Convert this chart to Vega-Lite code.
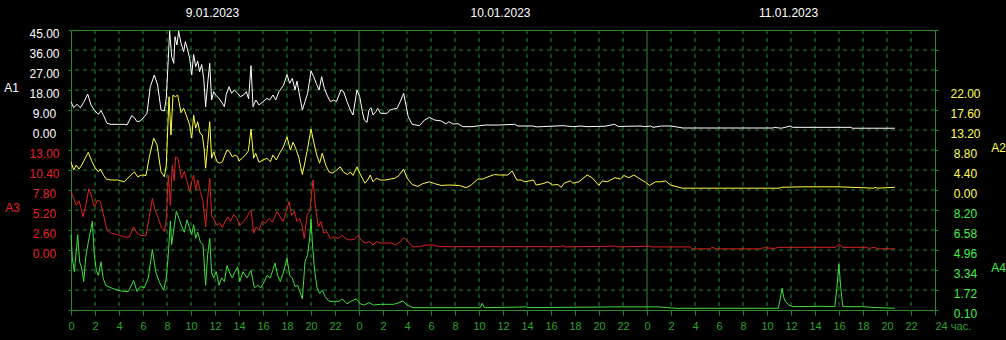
{
"$schema": "https://vega.github.io/schema/vega-lite/v6.json",
"width": 864, "height": 280,
"autosize": {"type": "none"},
"padding": {"left": 71, "top": 30, "right": 71, "bottom": 30},
"background": "#000000",
"config": {
  "view": {"stroke": "#2e8b2e", "strokeWidth": 1},
  "axis": {"labelFont": "Liberation Sans Narrow, Liberation Sans", "titleFont": "Liberation Sans Narrow, Liberation Sans", "labelFontSize": 12, "titleFontSize": 12, "titleFontWeight": "normal", "domain": false, "ticks": false, "grid": false, "labelFlush": false, "labelOverlap": false}
},
"datasets": {
"a1": [{"h":0,"v":12.75},{"h":0.22,"v":10.05},{"h":0.5,"v":11.55},{"h":0.78,"v":10.05},{"h":1.06,"v":12.45},{"h":1.39,"v":16.2},{"h":1.67,"v":11.25},{"h":2.0,"v":8.55},{"h":2.28,"v":7.05},{"h":2.5,"v":8.7},{"h":2.72,"v":6.45},{"h":3.0,"v":3.0},{"h":3.33,"v":2.55},{"h":3.89,"v":2.55},{"h":4.44,"v":2.55},{"h":4.67,"v":2.25},{"h":5.06,"v":6.45},{"h":5.28,"v":5.55},{"h":5.5,"v":3.75},{"h":5.78,"v":4.05},{"h":6.11,"v":6.0},{"h":6.33,"v":7.5},{"h":6.61,"v":19.5},{"h":6.94,"v":24.75},{"h":7.22,"v":20.25},{"h":7.5,"v":9.0},{"h":7.78,"v":8.55},{"h":7.94,"v":14.25},{"h":8.11,"v":32.25},{"h":8.22,"v":44.55},{"h":8.39,"v":33},{"h":8.56,"v":30},{"h":8.67,"v":42},{"h":8.83,"v":38.25},{"h":8.97,"v":44.55},{"h":9.17,"v":39},{"h":9.39,"v":35.25},{"h":9.53,"v":39.75},{"h":9.72,"v":36},{"h":9.89,"v":32.25},{"h":10.06,"v":24.75},{"h":10.22,"v":34},{"h":10.39,"v":28.5},{"h":10.56,"v":31},{"h":10.72,"v":26.25},{"h":10.89,"v":29.5},{"h":11.06,"v":23.25},{"h":11.22,"v":10.5},{"h":11.39,"v":21},{"h":11.56,"v":30},{"h":11.72,"v":13.5},{"h":11.89,"v":17.25},{"h":12.11,"v":15.45},{"h":12.33,"v":14.25},{"h":12.56,"v":12.45},{"h":12.78,"v":10.5},{"h":12.94,"v":16},{"h":13.17,"v":19.5},{"h":13.39,"v":16.5},{"h":13.61,"v":18},{"h":13.89,"v":16.5},{"h":14.11,"v":15},{"h":14.39,"v":15.75},{"h":14.61,"v":17.25},{"h":14.8,"v":14},{"h":15.0,"v":28.95},{"h":15.17,"v":10.5},{"h":15.4,"v":13.5},{"h":15.67,"v":11.25},{"h":16,"v":12.75},{"h":16.33,"v":14.25},{"h":16.56,"v":13.5},{"h":16.83,"v":15.75},{"h":17.06,"v":13.5},{"h":17.33,"v":17.25},{"h":17.7,"v":20},{"h":18,"v":25},{"h":18.22,"v":21},{"h":18.44,"v":23.25},{"h":18.67,"v":18},{"h":18.83,"v":22},{"h":19.0,"v":17},{"h":19.28,"v":9},{"h":19.5,"v":12.75},{"h":19.72,"v":16.5},{"h":20,"v":26.55},{"h":20.22,"v":24},{"h":20.44,"v":21},{"h":20.67,"v":18},{"h":20.89,"v":24},{"h":21.11,"v":18.75},{"h":21.33,"v":15.75},{"h":21.61,"v":12.75},{"h":21.89,"v":13.5},{"h":22.11,"v":12.75},{"h":22.5,"v":18},{"h":22.72,"v":17.25},{"h":23,"v":12.75},{"h":23.28,"v":9},{"h":23.5,"v":6.75},{"h":23.83,"v":18},{"h":24.06,"v":15},{"h":24.28,"v":8.25},{"h":24.44,"v":4.5},{"h":24.67,"v":3.45},{"h":24.83,"v":9},{"h":25.0,"v":10},{"h":25.17,"v":6.75},{"h":25.4,"v":8.25},{"h":25.56,"v":9.75},{"h":25.8,"v":7.5},{"h":26.33,"v":7.5},{"h":26.61,"v":9},{"h":26.89,"v":9.45},{"h":27.17,"v":9.75},{"h":27.44,"v":12.75},{"h":27.72,"v":16.5},{"h":27.85,"v":13},{"h":28.1,"v":6},{"h":28.43,"v":2.55},{"h":29.04,"v":1.95},{"h":29.46,"v":4.5},{"h":29.88,"v":5.7},{"h":30.3,"v":4.5},{"h":30.85,"v":4.05},{"h":31.26,"v":2.7},{"h":31.49,"v":3.75},{"h":31.82,"v":2.7},{"h":32.24,"v":2.85},{"h":32.65,"v":1.5},{"h":33.5,"v":1.5},{"h":34.04,"v":1.95},{"h":34.6,"v":2.25},{"h":35.7,"v":2.25},{"h":36.96,"v":2.55},{"h":37.24,"v":1.8},{"h":38.49,"v":1.8},{"h":38.8,"v":1.4},{"h":41.0,"v":1.95},{"h":41.3,"v":1.8},{"h":41.8,"v":1.5},{"h":42.5,"v":1.8},{"h":43.0,"v":1.5},{"h":44.5,"v":1.7},{"h":45.3,"v":2.55},{"h":45.6,"v":1.6},{"h":47.5,"v":1.8},{"h":47.8,"v":1.5},{"h":48.3,"v":1.8},{"h":48.5,"v":1.2},{"h":49.2,"v":1.8},{"h":50.0,"v":1.8},{"h":51.0,"v":0.9},{"h":58.5,"v":0.9},{"h":58.6,"v":1.2},{"h":59.2,"v":0.8},{"h":59.95,"v":1.8},{"h":60.15,"v":1.2},{"h":65.0,"v":1.2},{"h":65.1,"v":0.8},{"h":68.65,"v":0.8}],
"a2": [{"h":0,"v":6.2},{"h":0.22,"v":4.4},{"h":0.44,"v":5.5},{"h":0.67,"v":4.6},{"h":0.9,"v":5.5},{"h":1.11,"v":6.6},{"h":1.44,"v":8.3},{"h":1.72,"v":6.4},{"h":2.0,"v":4.9},{"h":2.28,"v":4.0},{"h":2.44,"v":4.6},{"h":2.7,"v":3.3},{"h":2.94,"v":2.4},{"h":3.33,"v":2.2},{"h":3.89,"v":2.2},{"h":4.44,"v":1.8},{"h":4.72,"v":2.6},{"h":5.28,"v":4.0},{"h":5.56,"v":2.9},{"h":5.89,"v":3.3},{"h":6.25,"v":3.2},{"h":6.53,"v":7.3},{"h":6.89,"v":11.4},{"h":7.17,"v":9.9},{"h":7.5,"v":4.0},{"h":7.78,"v":2.9},{"h":7.94,"v":5.5},{"h":8.17,"v":20.5},{"h":8.33,"v":12.1},{"h":8.5,"v":20.9},{"h":8.7,"v":20.5},{"h":8.89,"v":20.9},{"h":9.17,"v":17},{"h":9.39,"v":18},{"h":9.6,"v":16.5},{"h":9.89,"v":14.3},{"h":10.06,"v":11.4},{"h":10.22,"v":16.5},{"h":10.39,"v":13.6},{"h":10.56,"v":15},{"h":10.75,"v":12.5},{"h":10.94,"v":12.1},{"h":11.1,"v":9},{"h":11.22,"v":4.8},{"h":11.39,"v":10},{"h":11.56,"v":15},{"h":11.72,"v":7},{"h":11.89,"v":8.4},{"h":12.17,"v":6.2},{"h":12.39,"v":5.9},{"h":12.61,"v":6.2},{"h":12.8,"v":7.5},{"h":13.0,"v":8.8},{"h":13.22,"v":8.4},{"h":13.44,"v":7.3},{"h":13.67,"v":7.7},{"h":13.89,"v":7.3},{"h":14.0,"v":6.4},{"h":14.28,"v":7},{"h":14.56,"v":7.8},{"h":14.78,"v":8.6},{"h":15.0,"v":13.4},{"h":15.22,"v":7},{"h":15.39,"v":8.1},{"h":15.67,"v":6.1},{"h":16,"v":6.6},{"h":16.33,"v":7},{"h":16.61,"v":6.2},{"h":16.83,"v":7.7},{"h":17.11,"v":6.6},{"h":17.39,"v":8.1},{"h":17.7,"v":9.5},{"h":18,"v":11.7},{"h":18.28,"v":8.8},{"h":18.5,"v":10.5},{"h":18.72,"v":9.2},{"h":19,"v":7},{"h":19.28,"v":3.4},{"h":19.5,"v":6.2},{"h":19.72,"v":9.2},{"h":20,"v":13.4},{"h":20.28,"v":9.9},{"h":20.5,"v":7.5},{"h":20.72,"v":5.9},{"h":20.94,"v":8.1},{"h":21.22,"v":5.5},{"h":21.5,"v":4},{"h":21.78,"v":3.7},{"h":22.06,"v":4.2},{"h":22.44,"v":5.1},{"h":22.72,"v":3.9},{"h":23.06,"v":3.4},{"h":23.28,"v":4.0},{"h":23.5,"v":3.2},{"h":23.83,"v":5.1},{"h":24.06,"v":3.7},{"h":24.28,"v":2.6},{"h":24.5,"v":1.5},{"h":24.72,"v":2.2},{"h":24.94,"v":3.3},{"h":25.17,"v":1.8},{"h":25.44,"v":2.6},{"h":25.78,"v":2.2},{"h":26.22,"v":2.2},{"h":26.61,"v":2.4},{"h":27,"v":2.6},{"h":27.33,"v":3.2},{"h":27.71,"v":4.6},{"h":27.99,"v":2.7},{"h":28.43,"v":1.2},{"h":28.9,"v":0.8},{"h":29.32,"v":1.4},{"h":29.88,"v":1.8},{"h":30.3,"v":1.4},{"h":30.85,"v":1.0},{"h":31.54,"v":1.1},{"h":32.37,"v":1.0},{"h":32.93,"v":0.5},{"h":33.35,"v":1.1},{"h":33.9,"v":2.4},{"h":34.32,"v":2.4},{"h":34.74,"v":2.9},{"h":35.29,"v":3.4},{"h":35.71,"v":3.3},{"h":36.4,"v":3.3},{"h":36.76,"v":4.2},{"h":37.15,"v":2.2},{"h":37.51,"v":2.2},{"h":37.79,"v":1.8},{"h":38.2,"v":2.0},{"h":38.54,"v":2.2},{"h":38.76,"v":1.1},{"h":39.32,"v":1.4},{"h":39.74,"v":1.8},{"h":40.15,"v":1.1},{"h":40.57,"v":1.2},{"h":40.85,"v":0.6},{"h":41.1,"v":1.5},{"h":41.62,"v":2.0},{"h":41.82,"v":1.5},{"h":42.32,"v":1.8},{"h":43.01,"v":3.3},{"h":43.43,"v":2.7},{"h":43.99,"v":1.0},{"h":44.26,"v":2.0},{"h":44.68,"v":1.8},{"h":44.96,"v":2.2},{"h":45.32,"v":2.7},{"h":45.79,"v":2.4},{"h":46.07,"v":3.2},{"h":46.49,"v":2.7},{"h":46.9,"v":3.3},{"h":47.32,"v":2.6},{"h":47.88,"v":1.7},{"h":48.21,"v":1.0},{"h":48.71,"v":1.8},{"h":49.13,"v":1.8},{"h":49.54,"v":2.0},{"h":49.96,"v":1.1},{"h":50.51,"v":0.7},{"h":50.93,"v":0.4},{"h":59.0,"v":0.4},{"h":59.2,"v":0.6},{"h":61.0,"v":0.7},{"h":62,"v":0.7},{"h":64,"v":0.7},{"h":66.9,"v":0.4},{"h":67.0,"v":0.6},{"h":67.2,"v":0.4},{"h":68.65,"v":0.6}],
"a3": [{"h":0,"v":7.6},{"h":0.22,"v":6.7},{"h":0.44,"v":5.8},{"h":0.67,"v":6.4},{"h":0.83,"v":5.5},{"h":1.0,"v":4.3},{"h":1.22,"v":5.8},{"h":1.5,"v":8.0},{"h":1.72,"v":6.9},{"h":1.94,"v":5.6},{"h":2.22,"v":6.5},{"h":2.44,"v":6.3},{"h":2.67,"v":4.8},{"h":3.0,"v":2.6},{"h":3.33,"v":2.2},{"h":3.89,"v":2.0},{"h":4.44,"v":1.7},{"h":4.86,"v":1.7},{"h":5.22,"v":3.0},{"h":5.5,"v":2.2},{"h":5.83,"v":1.9},{"h":6.25,"v":1.9},{"h":6.5,"v":4.1},{"h":6.78,"v":6.7},{"h":7.0,"v":5.2},{"h":7.28,"v":4.1},{"h":7.56,"v":2.8},{"h":7.78,"v":2.4},{"h":7.94,"v":4.1},{"h":8.11,"v":9.7},{"h":8.28,"v":5.8},{"h":8.44,"v":11},{"h":8.6,"v":9},{"h":8.72,"v":12.1},{"h":8.89,"v":12.0},{"h":9.06,"v":10.6},{"h":9.22,"v":9.3},{"h":9.44,"v":10.2},{"h":9.67,"v":8.9},{"h":9.89,"v":7.6},{"h":10.06,"v":8.9},{"h":10.22,"v":9.7},{"h":10.39,"v":7.8},{"h":10.56,"v":9.1},{"h":10.78,"v":7.6},{"h":11.0,"v":6.3},{"h":11.22,"v":3.0},{"h":11.39,"v":6.7},{"h":11.56,"v":9.3},{"h":11.72,"v":4.5},{"h":11.94,"v":3.9},{"h":12.17,"v":3.2},{"h":12.39,"v":3.5},{"h":12.61,"v":2.9},{"h":12.83,"v":3.7},{"h":13.06,"v":4.3},{"h":13.28,"v":3.7},{"h":13.56,"v":4.6},{"h":13.83,"v":4.1},{"h":14.06,"v":3.2},{"h":14.33,"v":3.7},{"h":14.61,"v":4.1},{"h":14.83,"v":4.8},{"h":15.0,"v":5.2},{"h":15.22,"v":2.2},{"h":15.44,"v":3.0},{"h":15.67,"v":2.6},{"h":15.94,"v":3.7},{"h":16.22,"v":3.5},{"h":16.5,"v":4.1},{"h":16.8,"v":3.6},{"h":17.17,"v":5.0},{"h":17.44,"v":4.3},{"h":17.67,"v":3.7},{"h":17.94,"v":5.0},{"h":18.17,"v":6.3},{"h":18.39,"v":4.5},{"h":18.61,"v":5.0},{"h":18.83,"v":3.7},{"h":19.06,"v":4.1},{"h":19.28,"v":3.0},{"h":19.44,"v":1.5},{"h":19.67,"v":4.5},{"h":19.89,"v":5.0},{"h":20.17,"v":9.1},{"h":20.39,"v":5.4},{"h":20.61,"v":3.0},{"h":20.83,"v":3.7},{"h":21.06,"v":2.2},{"h":21.33,"v":2.4},{"h":21.61,"v":1.5},{"h":21.94,"v":1.7},{"h":22.28,"v":1.5},{"h":22.61,"v":1.9},{"h":22.89,"v":1.5},{"h":23.22,"v":1.3},{"h":23.61,"v":1.4},{"h":23.94,"v":1.9},{"h":24.22,"v":1.2},{"h":24.56,"v":0.9},{"h":24.89,"v":1.1},{"h":25.17,"v":0.65},{"h":25.44,"v":1.1},{"h":25.78,"v":0.9},{"h":26.72,"v":0.9},{"h":27.06,"v":0.65},{"h":27.39,"v":1.0},{"h":27.75,"v":1.6},{"h":28.21,"v":0.9},{"h":28.49,"v":0.43},{"h":29.04,"v":0.43},{"h":29.6,"v":0.65},{"h":30.15,"v":0.65},{"h":30.71,"v":0.43},{"h":40.8,"v":0.43},{"h":41.0,"v":0.56},{"h":41.2,"v":0.4},{"h":45.4,"v":0.5},{"h":45.6,"v":0.4},{"h":48.2,"v":0.5},{"h":48.4,"v":0.4},{"h":51.6,"v":0.4},{"h":51.76,"v":0.15},{"h":53.3,"v":0.15},{"h":53.4,"v":0.35},{"h":53.8,"v":0.15},{"h":57.5,"v":0.15},{"h":57.7,"v":0.3},{"h":58.65,"v":0.2},{"h":58.9,"v":0.35},{"h":63.7,"v":0.35},{"h":63.99,"v":0.74},{"h":64.3,"v":0.35},{"h":66.3,"v":0.35},{"h":66.5,"v":0.2},{"h":66.9,"v":0.35},{"h":67.3,"v":0.15},{"h":68.65,"v":0.15}],
"a4": [{"h":0,"v":6.2},{"h":0.11,"v":4.3},{"h":0.28,"v":3.2},{"h":0.56,"v":6.2},{"h":0.72,"v":4.0},{"h":0.89,"v":3.5},{"h":1.06,"v":2.4},{"h":1.22,"v":4.3},{"h":1.44,"v":5.6},{"h":1.67,"v":6.7},{"h":1.78,"v":7.3},{"h":1.94,"v":4.6},{"h":2.11,"v":3.3},{"h":2.28,"v":2.9},{"h":2.5,"v":4.0},{"h":2.67,"v":2.7},{"h":2.89,"v":2.1},{"h":3.33,"v":1.9},{"h":3.89,"v":1.7},{"h":4.44,"v":1.6},{"h":4.78,"v":1.6},{"h":5.22,"v":2.5},{"h":5.5,"v":1.6},{"h":5.78,"v":2.0},{"h":6.11,"v":1.9},{"h":6.44,"v":2.7},{"h":6.78,"v":5.0},{"h":7.06,"v":3.2},{"h":7.39,"v":2.3},{"h":7.72,"v":1.7},{"h":7.94,"v":2.7},{"h":8.11,"v":4.6},{"h":8.28,"v":7.3},{"h":8.39,"v":5.4},{"h":8.56,"v":6.6},{"h":8.78,"v":8.1},{"h":9.0,"v":7.5},{"h":9.22,"v":6.9},{"h":9.44,"v":6.4},{"h":9.67,"v":7.4},{"h":9.89,"v":6.7},{"h":10.06,"v":6.2},{"h":10.22,"v":7.0},{"h":10.39,"v":5.9},{"h":10.56,"v":6.4},{"h":10.78,"v":5.6},{"h":11.0,"v":5.4},{"h":11.22,"v":2.1},{"h":11.39,"v":4.6},{"h":11.56,"v":5.9},{"h":11.72,"v":3.1},{"h":11.89,"v":2.7},{"h":12.11,"v":3.2},{"h":12.33,"v":2.1},{"h":12.56,"v":2.7},{"h":12.78,"v":2.4},{"h":13.0,"v":3.7},{"h":13.22,"v":3.1},{"h":13.44,"v":2.7},{"h":13.67,"v":3.2},{"h":13.89,"v":3.6},{"h":14.06,"v":2.4},{"h":14.33,"v":3.2},{"h":14.67,"v":2.7},{"h":15.0,"v":3.3},{"h":15.28,"v":1.9},{"h":15.56,"v":2.1},{"h":15.83,"v":1.9},{"h":16.11,"v":2.4},{"h":16.33,"v":2.9},{"h":16.61,"v":2.7},{"h":17.0,"v":3.9},{"h":17.22,"v":2.9},{"h":17.44,"v":2.4},{"h":17.72,"v":3.2},{"h":18.0,"v":4.3},{"h":18.22,"v":2.9},{"h":18.44,"v":2.7},{"h":18.67,"v":2.0},{"h":18.89,"v":2.1},{"h":19.06,"v":1.6},{"h":19.28,"v":1.0},{"h":19.5,"v":4.0},{"h":19.72,"v":4.6},{"h":19.89,"v":5.9},{"h":20.0,"v":7.5},{"h":20.11,"v":5.6},{"h":20.28,"v":3.5},{"h":20.5,"v":1.9},{"h":20.72,"v":1.45},{"h":20.94,"v":1.7},{"h":21.17,"v":1.2},{"h":21.5,"v":0.8},{"h":21.89,"v":0.8},{"h":22.33,"v":0.8},{"h":22.61,"v":1.0},{"h":23.0,"v":0.6},{"h":23.33,"v":0.8},{"h":23.78,"v":1.0},{"h":24.11,"v":0.6},{"h":24.44,"v":0.5},{"h":24.83,"v":0.7},{"h":25.22,"v":0.5},{"h":25.78,"v":0.56},{"h":26.89,"v":0.56},{"h":27.33,"v":0.7},{"h":27.67,"v":0.83},{"h":27.99,"v":0.5},{"h":28.49,"v":0.29},{"h":34.1,"v":0.29},{"h":34.26,"v":0.64},{"h":34.45,"v":0.29},{"h":37.9,"v":0.35},{"h":38.2,"v":0.29},{"h":45.4,"v":0.35},{"h":49.0,"v":0.35},{"h":50.4,"v":0.24},{"h":58.95,"v":0.24},{"h":59.1,"v":1.0},{"h":59.26,"v":1.86},{"h":59.4,"v":1.1},{"h":59.54,"v":0.78},{"h":59.82,"v":0.5},{"h":60.18,"v":0.37},{"h":62.5,"v":0.4},{"h":63.65,"v":0.37},{"h":63.82,"v":1.86},{"h":63.99,"v":3.8},{"h":64.15,"v":1.86},{"h":64.32,"v":0.37},{"h":65.9,"v":0.37},{"h":67.0,"v":0.3},{"h":68.65,"v":0.24}],
"hg": [{"g":1},{"g":2},{"g":3},{"g":4},{"g":5},{"g":6},{"g":7},{"g":8},{"g":9},{"g":10},{"g":11},{"g":12},{"g":13}]
},
"resolve": {"scale": {"y": "independent"}, "axis": {"y": "independent", "x": "independent"}},
"layer": [
  {
    "data": {"name": "hg"},
    "mark": {"type": "rule", "color": "#24862a", "strokeDash": [4, 4], "strokeWidth": 1},
    "encoding": {
      "y": {"field": "g", "type": "quantitative", "scale": {"domain": [0, 14], "nice": false, "zero": false},
        "axis": {"orient": "right", "values": [0,1,2,3,4,5,6,7,8,9,10,11,12,13,14], "labels": false, "ticks": true, "tickSize": 6, "tickColor": "#24862a", "tickDash": [3, 3], "title": null}}
    }
  },
  {
    "data": {"name": "hg"},
    "mark": {"type": "rule", "color": "#24862a", "strokeOpacity": 0},
    "encoding": {
      "y": {"field": "g", "type": "quantitative", "scale": {"domain": [0, 14], "nice": false, "zero": false},
        "axis": {"orient": "left", "values": [0,1,2,3,4,5,6,7,8,9,10,11,12,13,14], "labels": false, "ticks": true, "tickSize": 3, "tickColor": "#24862a", "title": null}}
    }
  },
  {
    "data": {"values": [{"h":2},{"h":4},{"h":6},{"h":8},{"h":10},{"h":12},{"h":14},{"h":16},{"h":18},{"h":20},{"h":22},{"h":26},{"h":28},{"h":30},{"h":32},{"h":34},{"h":36},{"h":38},{"h":40},{"h":42},{"h":44},{"h":46},{"h":50},{"h":52},{"h":54},{"h":56},{"h":58},{"h":60},{"h":62},{"h":64},{"h":66},{"h":68},{"h":70}]},
    "mark": {"type": "rule", "color": "#24862a", "strokeDash": [4, 4], "strokeWidth": 1},
    "encoding": {
      "x": {"field": "h", "type": "quantitative", "scale": {"domain": [0, 72], "nice": false, "zero": false},
        "axis": {"orient": "bottom", "values": [0,2,4,6,8,10,12,14,16,18,20,22,24,26,28,30,32,34,36,38,40,42,44,46,48,50,52,54,56,58,60,62,64,66,68,70,72],
          "labelExpr": "datum.value == 72 ? '24 час.' : '' + (datum.value % 24)",
          "labelAlign": {"condition": {"test": "datum.value == 72", "value": "left"}, "value": "center"},
          "labelFontSize": 11, "labelColor": "#2ea02e", "labelBaseline": "top", "labelPadding": 5, "ticks": true, "tickSize": 5, "tickColor": "#24862a", "title": null}}
    }
  },
  {
    "data": {"values": [{"h":24},{"h":48}]},
    "mark": {"type": "rule", "color": "#2e8b2e", "strokeWidth": 1},
    "encoding": {
      "x": {"field": "h", "type": "quantitative", "scale": {"domain": [0, 72], "nice": false, "zero": false},
        "axis": {"orient": "top", "values": [12, 36, 60],
          "labelExpr": "datum.value == 12 ? '9.01.2023' : (datum.value == 36 ? '10.01.2023' : '11.01.2023')",
          "labelColor": "#ffffff", "labelBaseline": "alphabetic", "labelPadding": 14, "labelOffset": -3, "title": null}}
    }
  },
  {
    "data": {"name": "a1"},
    "mark": {"type": "line", "color": "#ffffff", "strokeWidth": 1},
    "encoding": {
      "x": {"field": "h", "type": "quantitative", "scale": {"domain": [0, 72], "nice": false, "zero": false}, "axis": null},
      "y": {"field": "v", "type": "quantitative", "scale": {"domain": [0, 45], "range": [100, 0], "nice": false, "zero": false},
        "axis": {"orient": "left", "values": [0, 9, 18, 27, 36, 45], "format": ".2f", "labelColor": "#ffffff", "labelAlign": "center", "labelBaseline": "alphabetic", "labelOffset": 7.5, "labelPadding": 27,
          "title": "A1", "titleColor": "#ffffff", "titleAngle": 0, "titleAlign": "center", "titleBaseline": "alphabetic", "titleX": -60, "titleY": 61}}
    }
  },
  {
    "data": {"name": "a2"},
    "mark": {"type": "line", "color": "#ffff40", "strokeWidth": 1},
    "encoding": {
      "x": {"field": "h", "type": "quantitative", "scale": {"domain": [0, 72], "nice": false, "zero": false}, "axis": null},
      "y": {"field": "v", "type": "quantitative", "scale": {"domain": [0, 22], "range": [160, 60], "nice": false, "zero": false},
        "axis": {"orient": "right", "values": [0, 4.4, 8.8, 13.2, 17.6, 22], "format": ".2f", "labelColor": "#ffff50", "labelAlign": "center", "labelBaseline": "alphabetic", "labelOffset": 7.5, "labelPadding": 30,
          "title": "A2", "titleColor": "#ffff50", "titleAngle": 0, "titleAlign": "center", "titleBaseline": "alphabetic", "titleX": 63, "titleY": 121}}
    }
  },
  {
    "data": {"name": "a3"},
    "mark": {"type": "line", "color": "#dd2222", "strokeWidth": 1},
    "encoding": {
      "x": {"field": "h", "type": "quantitative", "scale": {"domain": [0, 72], "nice": false, "zero": false}, "axis": null},
      "y": {"field": "v", "type": "quantitative", "scale": {"domain": [0, 13], "range": [220, 120], "nice": false, "zero": false},
        "axis": {"orient": "left", "values": [0, 2.6, 5.2, 7.8, 10.4, 13], "format": ".2f", "labelColor": "#e02424", "labelAlign": "center", "labelBaseline": "alphabetic", "labelOffset": 7.5, "labelPadding": 27,
          "title": "A3", "titleColor": "#e02424", "titleAngle": 0, "titleAlign": "center", "titleBaseline": "alphabetic", "titleX": -59, "titleY": 181}}
    }
  },
  {
    "data": {"name": "a4"},
    "mark": {"type": "line", "color": "#3fe03f", "strokeWidth": 1},
    "encoding": {
      "x": {"field": "h", "type": "quantitative", "scale": {"domain": [0, 72], "nice": false, "zero": false}, "axis": null},
      "y": {"field": "v", "type": "quantitative", "scale": {"domain": [0.1, 8.2], "range": [280, 180], "nice": false, "zero": false},
        "axis": {"orient": "right", "values": [0.1, 1.72, 3.34, 4.96, 6.58, 8.2], "format": ".2f", "labelColor": "#44f044", "labelAlign": "center", "labelBaseline": "alphabetic", "labelOffset": 7.5, "labelPadding": 30,
          "title": "A4", "titleColor": "#44f044", "titleAngle": 0, "titleAlign": "center", "titleBaseline": "alphabetic", "titleX": 63, "titleY": 241}}
    }
  }
]
}
